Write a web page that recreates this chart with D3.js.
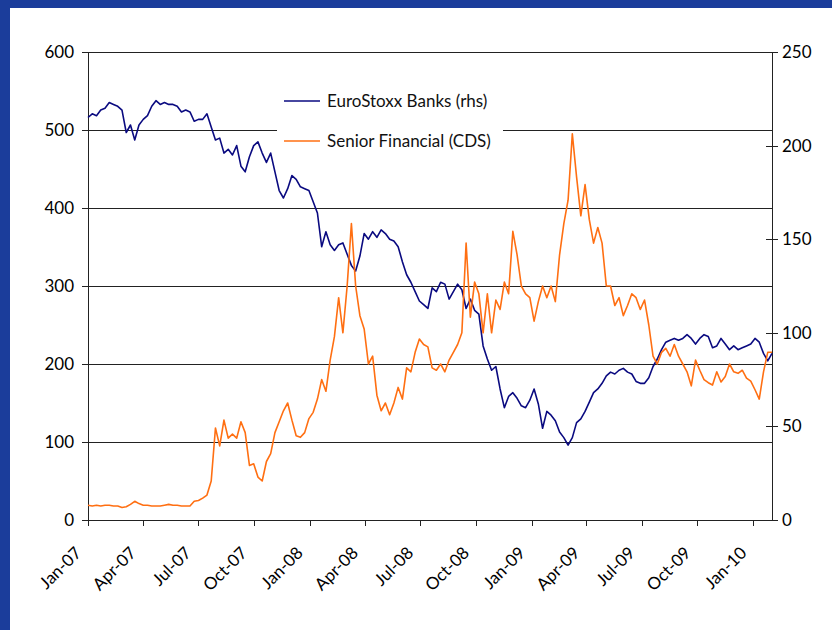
<!DOCTYPE html>
<html>
<head>
<meta charset="utf-8">
<script src="https://cdn.jsdelivr.net/npm/d3@7"></script>
<style>
  body { margin: 0; background: #1b3d9b; }
  svg { display: block; font-family: Lato, "Open Sans", sans-serif; }
</style>
</head>
<body>
<div id="chart"></div>
<script>
// weekly observations, first one on this date
var startDate = "2007-01-01";

// Senior Financial (CDS), left axis
var cdsValues = [
  19, 18, 19, 18, 19, 19, 18, 18, 16, 17, 20, 24, 21,
  19, 19, 18, 18, 18, 19, 20, 19, 19, 18, 18, 18,
  24, 25, 28, 32, 50,
  118, 95, 128, 105, 110, 105, 126, 112, 70, 72,
  55, 50, 75, 85, 112, 126, 140, 150, 128, 108,
  106, 112, 130, 138, 155, 180, 165, 205, 235, 285,
  240, 300, 380, 300, 262, 245, 200, 210, 160, 140,
  150, 135, 150, 170, 155, 195, 190, 215, 232, 225,
  222, 195, 192, 200, 190, 205, 215, 225, 240, 355,
  260, 305, 290, 240, 290, 240, 282, 270, 305, 290,
  370, 340, 300, 290, 285, 255, 280, 300, 285, 300,
  280, 340, 380, 410, 495, 440, 390, 430, 385, 355,
  375, 355, 300, 300, 275, 285, 262, 275, 290, 285,
  270, 282, 250, 210, 200, 215, 220, 210, 225, 210,
  200, 190, 172, 205, 192, 180, 176, 173, 190, 177,
  184, 200, 190, 188, 192, 182, 178, 167, 155, 190,
  215, 215
];

// EuroStoxx Banks, right axis
var banksValues = [
  215, 217, 216, 219, 220, 223, 222, 221, 219, 207,
  211, 203, 211, 214, 216, 221, 224, 222, 223, 222,
  222, 221, 218, 219, 218, 213, 214, 214, 217, 210,
  203, 204, 196, 198, 195, 200, 189, 186, 194, 200,
  202, 196, 191, 196, 186, 176, 172, 177, 184, 182,
  178, 177, 176, 170, 164, 146, 154, 147, 144, 147,
  148, 142, 136, 133, 141, 153, 150, 154, 151, 155,
  153, 150, 149, 146, 138, 131, 127, 122, 117, 115,
  113, 124, 122, 127, 126, 118, 122, 126, 123, 113,
  118, 112, 110, 93, 86, 80, 82, 70, 60, 66,
  68, 65, 61, 60, 64, 70, 62, 49, 58, 56,
  53, 47, 44, 40, 44, 52, 54, 58, 63, 68,
  70, 73, 77, 79, 78, 80, 81, 79, 78, 74,
  73, 73, 76, 82, 86, 91, 95, 96, 97, 96,
  97, 99, 97, 94, 97, 99, 98, 92, 93, 97,
  94, 91, 93, 91, 92, 93, 94, 97, 95, 89,
  85, 89
];

var seriesNames = ["EuroStoxx Banks (rhs)", "Senior Financial (CDS)"];
var seriesColors = ["#0a0a80", "#ff6f12"];
var leftTicks = [0, 100, 200, 300, 400, 500, 600];
var rightTicks = [0, 50, 100, 150, 200, 250];
var tickLabels = ["Jan-07", "Apr-07", "Jul-07", "Oct-07", "Jan-08", "Apr-08", "Jul-08",
                  "Oct-08", "Jan-09", "Apr-09", "Jul-09", "Oct-09", "Jan-10"];

var W = 832, H = 630;
var m = {left: 88, right: 772, top: 52, bottom: 520};

var svg = d3.select("#chart").append("svg")
    .attr("width", W)
    .attr("height", H);

// slide background + white panel
svg.append("rect").attr("width", W).attr("height", H).attr("fill", "#1b3d9b");
svg.append("rect")
    .attr("x", 10).attr("y", 8)
    .attr("width", W - 10).attr("height", H - 8)
    .attr("fill", "#ffffff");

var t0 = d3.isoParse(startDate);
var dates = cdsValues.map(function(v, i){ return d3.timeWeek.offset(t0, i); });
var tEnd = dates[dates.length - 1];

var x = d3.scaleTime()
    .domain([t0, tEnd])
    .range([m.left, m.right]);

var yL = d3.scaleLinear().domain([0, 600]).range([m.bottom, m.top]);
var yR = d3.scaleLinear().domain([0, 250]).range([m.bottom, m.top]);

// gridlines
svg.append("g")
   .selectAll("line")
   .data(leftTicks.filter(function(d){ return d > 0; }))
   .join("line")
   .attr("x1", m.left).attr("x2", m.right)
   .attr("y1", function(d){ return yL(d); })
   .attr("y2", function(d){ return yL(d); })
   .attr("stroke", "#222")
   .attr("stroke-width", 1)
   .attr("shape-rendering", "crispEdges");

// quarter ticks
var quarters = d3.timeMonth.every(3).range(t0, tEnd);

// left axis
var gl = svg.append("g")
    .attr("transform", "translate(" + m.left + ",0)")
    .call(d3.axisLeft(yL).tickValues(leftTicks).tickSize(6).tickPadding(8).tickFormat(d3.format("d")));

// right axis
var gr = svg.append("g")
    .attr("transform", "translate(" + m.right + ",0)")
    .call(d3.axisRight(yR).tickValues(rightTicks).tickSize(6).tickPadding(4).tickFormat(d3.format("d")));
gr.selectAll(".tick line").attr("x1", -6);

// bottom axis
var gb = svg.append("g")
    .attr("transform", "translate(0," + m.bottom + ")")
    .call(d3.axisBottom(x).tickValues(quarters).tickSize(6).tickSizeOuter(0)
          .tickFormat(function(d, i){ return tickLabels[i]; }));

[gl, gr, gb].forEach(function(g){
  g.selectAll("path").attr("stroke", "#222").attr("shape-rendering", "crispEdges");
  g.selectAll("line").attr("stroke", "#222").attr("shape-rendering", "crispEdges");
  g.selectAll("text")
   .style("font-family", "Lato, 'Open Sans', sans-serif")
   .style("font-size", "17px")
   .attr("fill", "#000");
});
gb.select(".domain").attr("d", "M" + m.left + ",0.5H" + m.right);

gb.selectAll(".tick text")
  .attr("text-anchor", "end")
  .attr("y", 0).attr("dy", 0)
  .attr("transform", "translate(-6,34) rotate(-45)");

// lines
var lineL = d3.line()
    .x(function(d, i){ return x(dates[i]); })
    .y(function(d){ return yL(d); });
var lineR = d3.line()
    .x(function(d, i){ return x(dates[i]); })
    .y(function(d){ return yR(d); });

svg.append("path")
   .datum(banksValues)
   .attr("d", lineR)
   .attr("fill", "none")
   .attr("stroke", seriesColors[0])
   .attr("stroke-width", 1.6)
   .attr("stroke-linejoin", "round");

svg.append("path")
   .datum(cdsValues)
   .attr("d", lineL)
   .attr("fill", "none")
   .attr("stroke", seriesColors[1])
   .attr("stroke-width", 1.6)
   .attr("stroke-linejoin", "round");

// legend
var lg = svg.append("g").attr("transform", "translate(277,84)");
lg.append("rect").attr("width", 226).attr("height", 74).attr("fill", "#fff");
seriesNames.forEach(function(name, i){
  var yy = 17 + i * 40;
  lg.append("line")
    .attr("x1", 7).attr("x2", 43)
    .attr("y1", yy).attr("y2", yy)
    .attr("stroke", seriesColors[i])
    .attr("stroke-width", 1.6);
  lg.append("text")
    .attr("x", 50).attr("y", yy + 6)
    .style("font-size", "17px")
    .attr("fill", "#111")
    .text(name);
});
</script>
</body>
</html>
